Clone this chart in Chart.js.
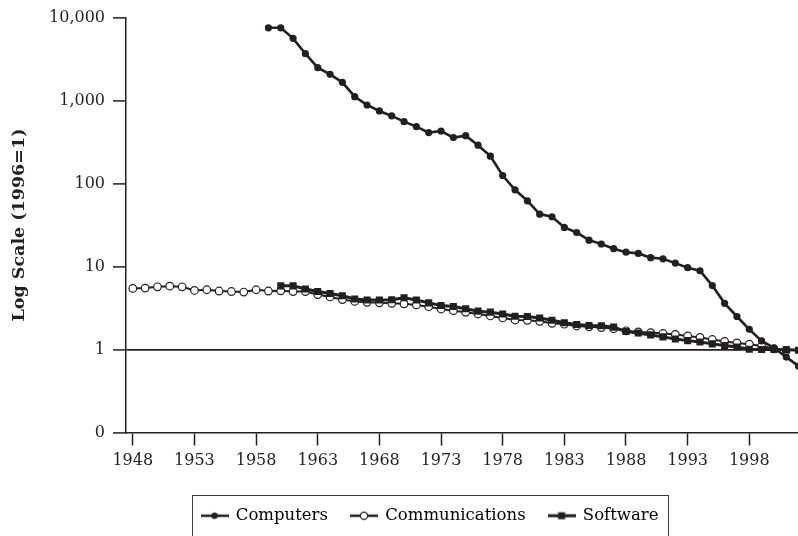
<!DOCTYPE html>
<html>
<head>
<meta charset="utf-8">
<script src="https://cdn.jsdelivr.net/npm/chart.js@4"></script>
<style>
  html, body { margin: 0; padding: 0; background: #fff; }
  #wrap { width: 798px; height: 536px; }
</style>
</head>
<body>
<div id="wrap"><canvas id="chart" width="798" height="536"></canvas></div>
<script>
const ink = '#231f20'

// price index, log scale (1996=1), one value per year from the start year
const computersStart = 1959
const computers = [7540, 7540, 5620, 3670, 2490, 2070, 1660, 1114, 885, 750, 653, 557, 485, 411, 430, 358, 378, 290, 214, 125,
  84, 62, 42.8, 39.8, 29.6, 25.7, 20.8, 18.7, 16.4, 14.9, 14.4, 12.8, 12.4, 11.0, 9.7, 8.9, 5.9, 3.6, 2.5, 1.75,
  1.27, 1.05, 0.81, 0.63]

const communicationsStart = 1948
const communications = [5.45, 5.5, 5.7, 5.8, 5.7, 5.15, 5.25, 5.07, 5.0, 4.93, 5.25, 5.07, 5.1, 5.0, 5.0, 4.6, 4.3, 4.0, 3.8, 3.7,
  3.65, 3.6, 3.55, 3.45, 3.28, 3.08, 2.94, 2.81, 2.68, 2.54, 2.4, 2.27, 2.25, 2.19, 2.07, 2.02, 1.92, 1.88, 1.84, 1.78,
  1.68, 1.63, 1.6, 1.56, 1.52, 1.46, 1.4, 1.32, 1.25, 1.2, 1.16, 1.1, 1.02, 0.97]

const softwareStart = 1960
const software = [5.85, 5.85, 5.36, 5.0, 4.74, 4.45, 4.06, 3.95, 3.95, 3.98, 4.2, 3.95, 3.65, 3.4, 3.3, 3.1, 2.9, 2.82, 2.68, 2.52,
  2.5, 2.4, 2.25, 2.1, 2.0, 1.95, 1.93, 1.86, 1.65, 1.58, 1.5, 1.42, 1.34, 1.28, 1.23, 1.17, 1.12, 1.07, 1.01, 1.0,
  1.0, 1.0, 0.98]

const yearTicks = [1948, 1953, 1958, 1963, 1968, 1973, 1978, 1983, 1988, 1993, 1998]
const logTicks = [0.1, 1, 10, 100, 1000, 10000]
const seriesNames = ['Computers', 'Communications', 'Software']

function toPoints(start, values) {
  return values.map((v, i) => ({ x: start + i, y: v }))
}

// small line+marker pictures for the legend
function legendIcon(kind) {
  const c = document.createElement('canvas')
  c.width = 28
  c.height = 12
  const g = c.getContext('2d')
  g.strokeStyle = ink
  g.fillStyle = ink
  g.lineWidth = kind === 'software' ? 3 : 2.5
  g.beginPath()
  g.moveTo(0, 6)
  g.lineTo(28, 6)
  g.stroke()
  if (kind === 'computers') {
    g.beginPath()
    g.arc(14, 6, 3.2, 0, Math.PI * 2)
    g.fill()
  } else if (kind === 'communications') {
    g.beginPath()
    g.arc(14, 6, 3.6, 0, Math.PI * 2)
    g.fillStyle = '#fff'
    g.fill()
    g.lineWidth = 1.2
    g.stroke()
  } else {
    g.fillRect(10.5, 2.5, 7, 7)
  }
  return c
}
const icons = [legendIcon('computers'), legendIcon('communications'), legendIcon('software')]

const legendBox = {
  id: 'legendBox',
  afterLayout(chart) {
    // move the legend so its items are centred at x = 430
    const lg = chart.legend
    const pad = lg.options.labels.padding
    const start = (lg.left + pad + lg.right - lg.lineWidths[0]) / 2
    const shift = 430 - (start + (lg.lineWidths[0] - pad) / 2)
    lg.left += shift
    lg.right += shift
  },
  afterDraw(chart) {
    const boxes = chart.legend.legendHitBoxes
    if (!boxes || !boxes.length) return
    const first = boxes[0]
    const last = boxes[boxes.length - 1]
    const cy = first.top + first.height / 2
    const x0 = Math.round(first.left - 10) + 0.5
    const x1 = Math.round(last.left + last.width + 10) + 0.5
    const y0 = Math.round(cy - 21) + 0.5
    const ctx = chart.ctx
    ctx.save()
    ctx.strokeStyle = '#3a3a3a'
    ctx.lineWidth = 1
    ctx.strokeRect(x0, y0, x1 - x0, 80)
    ctx.restore()
  }
}

Chart.defaults.font.family = 'DejaVu Serif'
Chart.defaults.color = ink

new Chart('chart', {
  type: 'line',
  data: {
    datasets: [
      {
        label: seriesNames[0],
        data: toPoints(computersStart, computers),
        borderColor: ink,
        backgroundColor: ink,
        borderWidth: 2.6,
        pointStyle: 'circle',
        pointRadius: 3.6,
        pointBorderWidth: 0,
        pointBackgroundColor: ink,
        order: 0
      },
      {
        label: seriesNames[1],
        data: toPoints(communicationsStart, communications),
        borderColor: ink,
        backgroundColor: '#fff',
        borderWidth: 2,
        pointStyle: 'circle',
        pointRadius: 3.8,
        pointBorderWidth: 1.2,
        pointBackgroundColor: '#fff',
        pointBorderColor: ink,
        order: 2
      },
      {
        label: seriesNames[2],
        data: toPoints(softwareStart, software),
        borderColor: ink,
        backgroundColor: ink,
        borderWidth: 3,
        pointStyle: 'rect',
        pointRadius: 5,
        pointBorderWidth: 0,
        pointBackgroundColor: ink,
        order: 1
      }
    ]
  },
  options: {
    responsive: false,
    animation: false,
    layout: { autoPadding: false, padding: { top: 17, right: 0, left: 0, bottom: 2 } },
    plugins: {
      tooltip: { enabled: false },
      legend: {
        position: 'bottom',
        labels: {
          color: ink,
          font: { size: 16.5 },
          padding: 23,
          usePointStyle: true,
          pointStyleWidth: 26,
          generateLabels: () => seriesNames.map((name, i) => ({
            text: name,
            pointStyle: icons[i],
            fillStyle: ink,
            strokeStyle: ink,
            lineWidth: 0,
            hidden: false,
            datasetIndex: i
          }))
        }
      }
    },
    scales: {
      x: {
        type: 'linear',
        min: 1947.45,
        max: 2001.95,
        afterBuildTicks: scale => { scale.ticks = yearTicks.map(v => ({ value: v })) },
        afterFit: scale => {
          scale.height = 52
          scale.paddingLeft = 0
          scale.paddingRight = 0
        },
        ticks: {
          font: { size: 16 },
          color: ink,
          padding: 6,
          maxRotation: 0,
          autoSkip: false,
          callback: v => String(v)
        },
        grid: {
          drawOnChartArea: false,
          tickLength: 13,
          tickColor: ink,
          tickWidth: 1.5
        },
        border: { display: true, color: ink, width: 1.5 }
      },
      y: {
        type: 'logarithmic',
        min: 0.1,
        max: 10000,
        afterBuildTicks: scale => { scale.ticks = logTicks.map(v => ({ value: v })) },
        afterFit: scale => { scale.width = 126 },
        ticks: {
          font: { size: 16 },
          color: ink,
          padding: 8,
          autoSkip: false,
          callback: v => v === 0.1 ? '0' : Number(v).toLocaleString('en-US')
        },
        grid: {
          drawOnChartArea: true,
          color: c => (c.tick && c.tick.value === 1) ? ink : 'rgba(0,0,0,0)',
          lineWidth: 1.8,
          tickLength: 13,
          tickColor: ink,
          tickWidth: 1.5
        },
        border: { display: true, color: ink, width: 1.5 },
        title: {
          display: true,
          text: 'Log Scale (1996=1)',
          color: ink,
          font: { size: 17.5, weight: 'bold' },
          padding: { top: 9, bottom: 0 }
        }
      }
    }
  },
  plugins: [legendBox]
})
</script>
</body>
</html>
